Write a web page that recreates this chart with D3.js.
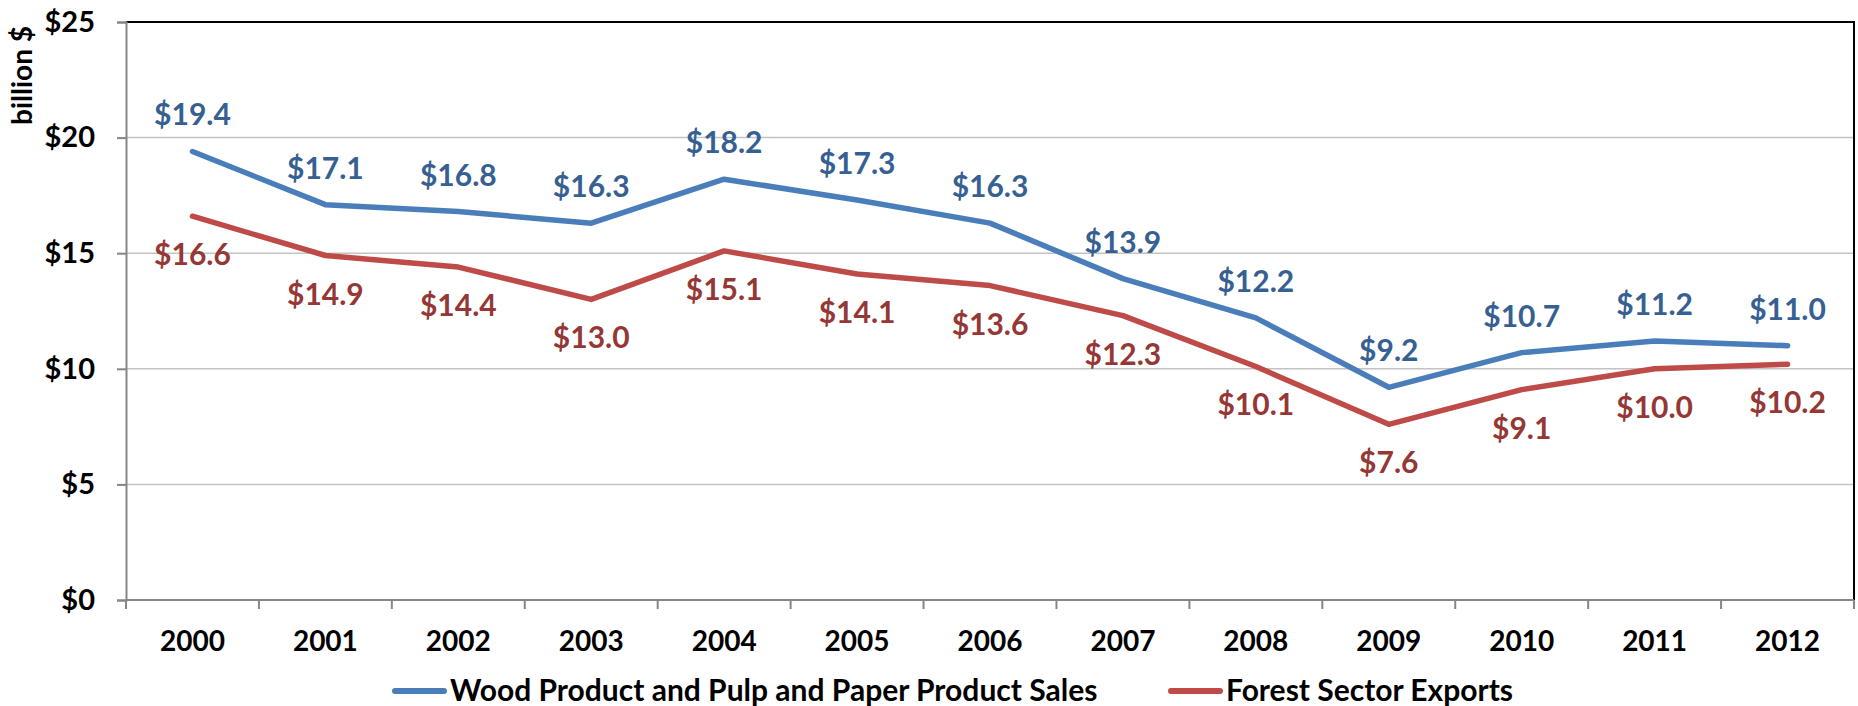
<!DOCTYPE html>
<html>
<head>
<meta charset="utf-8">
<script src="https://cdn.jsdelivr.net/npm/d3@7"></script>
<style>
  body { margin: 0; background: #fff; }
  svg { display: block; font-family: Lato, "Open Sans", sans-serif; font-weight: bold; }
</style>
</head>
<body>
<svg id="chart" width="1858" height="706"></svg>
<script>
const years = ['2000', '2001', '2002', '2003', '2004', '2005', '2006', '2007', '2008', '2009', '2010', '2011', '2012'];
const sales = [19.4, 17.1, 16.8, 16.3, 18.2, 17.3, 16.3, 13.9, 12.2, 9.2, 10.7, 11.2, 11.0];
const exportsFs = [16.6, 14.9, 14.4, 13.0, 15.1, 14.1, 13.6, 12.3, 10.1, 7.6, 9.1, 10.0, 10.2];
const yTicks = [0, 5, 10, 15, 20, 25];
const seriesNames = ['Wood Product and Pulp and Paper Product Sales', 'Forest Sector Exports'];

const margin = { top: 22, right: 4, bottom: 106, left: 126 };
const width = 1858, height = 706;

const svg = d3.select('#chart');

const x = d3.scaleBand()
  .domain(years)
  .range([margin.left, width - margin.right])
  .padding(0);

const y = d3.scaleLinear()
  .domain([0, 25])
  .range([height - margin.bottom, margin.top]);

const cx = d => x(d) + x.bandwidth() / 2;

// gridlines
svg.append('g')
  .selectAll('line')
  .data(yTicks.filter(t => t > 0 && t < 25))
  .join('line')
  .attr('x1', margin.left).attr('x2', width - margin.right)
  .attr('y1', d => y(d)).attr('y2', d => y(d))
  .attr('stroke', '#c3c3c3')
  .attr('stroke-width', 1.5);

// plot area border (top + right)
svg.append('path')
  .attr('d', `M${margin.left},${y(25)}H${width - margin.right}V${y(0)}`)
  .attr('fill', 'none')
  .attr('stroke', '#000')
  .attr('stroke-width', 2);

// y axis
const yAxis = svg.append('g')
  .attr('transform', `translate(${margin.left},0)`)
  .call(d3.axisLeft(y).tickValues(yTicks).tickSize(9).tickPadding(22).tickFormat(d => '$' + d));
yAxis.select('.domain').attr('stroke', '#868686').attr('stroke-width', 2);
yAxis.selectAll('.tick line').attr('stroke', '#868686').attr('stroke-width', 2);
yAxis.selectAll('.tick text')
  .attr('fill', '#000')
  .style('font-size', '29px')
  .style('font-family', 'Lato, sans-serif')
  .style('font-weight', 'bold');

// x axis with ticks between categories
const xAxis = svg.append('g')
  .attr('transform', `translate(0,${y(0)})`);
xAxis.append('line')
  .attr('x1', margin.left).attr('x2', width - margin.right)
  .attr('stroke', '#868686').attr('stroke-width', 2);
xAxis.selectAll('.xt')
  .data(years.concat(['end']))
  .join('line')
  .attr('class', 'xt')
  .attr('x1', (d, i) => margin.left + i * x.bandwidth())
  .attr('x2', (d, i) => margin.left + i * x.bandwidth())
  .attr('y1', 0).attr('y2', 9)
  .attr('stroke', '#868686').attr('stroke-width', 2);
xAxis.selectAll('.xl')
  .data(years)
  .join('text')
  .attr('class', 'xl')
  .attr('x', d => cx(d))
  .attr('y', 51)
  .attr('text-anchor', 'middle')
  .style('font-size', '28px')
  .text(d => d);

// y axis title
svg.append('text')
  .attr('transform', 'translate(32,26) rotate(-90)')
  .attr('text-anchor', 'end')
  .style('font-size', '28px')
  .text('billion $');

const line = d3.line()
  .x((d, i) => cx(years[i]))
  .y(d => y(d));

const series = [
  { values: sales, color: '#4a7ebb', labelColor: '#376092', dy: -26 },
  { values: exportsFs, color: '#be4b48', labelColor: '#953735', dy: 49 }
];

series.forEach(s => {
  svg.append('path')
    .datum(s.values)
    .attr('fill', 'none')
    .attr('stroke', s.color)
    .attr('stroke-width', 5.5)
    .attr('stroke-linejoin', 'round')
    .attr('stroke-linecap', 'round')
    .attr('d', line);

  svg.append('g')
    .selectAll('text')
    .data(s.values)
    .join('text')
    .attr('x', (d, i) => cx(years[i]))
    .attr('y', d => y(d) + s.dy)
    .attr('text-anchor', 'middle')
    .attr('fill', s.labelColor)
    .style('font-size', '30px')
    .text(d => '$' + d.toFixed(1));
});

// legend
const legendItems = [
  { name: seriesNames[0], color: '#4a7ebb', x: 392 },
  { name: seriesNames[1], color: '#be4b48', x: 1168 }
];
const legend = svg.append('g').attr('transform', 'translate(0,691)');
legendItems.forEach(it => {
  legend.append('line')
    .attr('x1', it.x + 3).attr('x2', it.x + 52)
    .attr('stroke', it.color)
    .attr('stroke-width', 6)
    .attr('stroke-linecap', 'round');
  legend.append('text')
    .attr('x', it.x + 58)
    .attr('y', 10)
    .style('font-size', '30px')
    .text(it.name);
});
</script>
</body>
</html>
